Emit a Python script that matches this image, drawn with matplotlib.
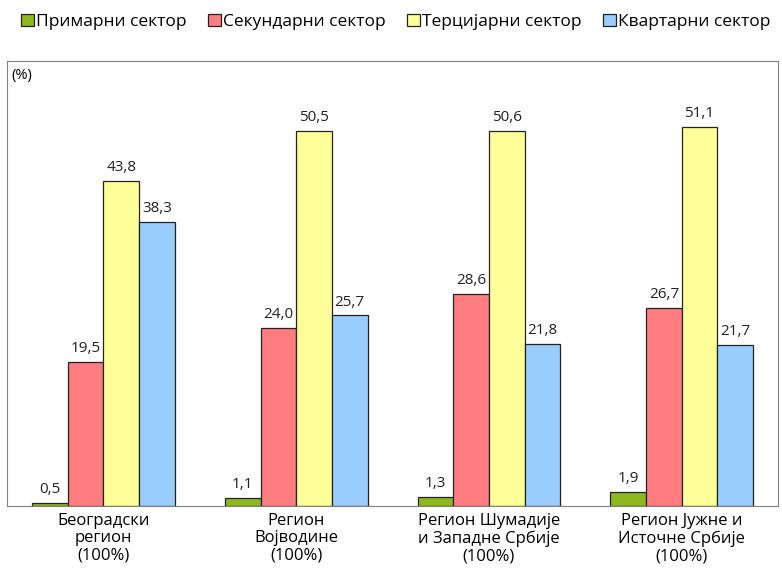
import numpy as np
from matplotlib import pyplot as plt

regioni = ["Београдски\nрегион\n(100%)", "Регион\nВојводине\n(100%)",
           "Регион Шумадије\nи Западне Србије\n(100%)", "Регион Јужне и\nИсточне Србије\n(100%)"]
sektori = ["Примарни сектор", "Секундарни сектор", "Терцијарни сектор", "Квартарни сектор"]
primarni = [0.5, 1.1, 1.3, 1.9]
sekundarni = [19.5, 24.0, 28.6, 26.7]
tercijarni = [43.8, 50.5, 50.6, 51.1]
kvartarni = [38.3, 25.7, 21.8, 21.7]
boje = ["#8DB81E", "#FF7C80", "#FFFF99", "#99CCFF"]

plt.rcParams['font.family'] = ['Open Sans', 'DejaVu Sans']

fig = plt.figure(figsize=(7.82, 5.74), dpi=100)
ax = fig.add_axes([0.009, 0.118, 0.986, 0.776])

x = np.arange(len(regioni))
w = 0.185
serije = [primarni, sekundarni, tercijarni, kvartarni]
for i, (vrednosti, boja, ime) in enumerate(zip(serije, boje, sektori)):
    pos = x + (i - 1.5) * w
    ax.bar(pos, vrednosti, w, color=boja, edgecolor="#222222", linewidth=0.9, label=ime)
    for p, v in zip(pos, vrednosti):
        lbl = f"{v:.1f}".replace(".", ",")
        ax.text(p, v + 0.8, lbl, ha="center", va="bottom", fontsize=11, color="#222222")

ax.set_xlim(-0.5, 3.5)
ax.set_ylim(0, 60)
ax.set_yticks([])
ax.set_xticks(x)
ax.set_xticklabels(regioni, fontsize=12, linespacing=1.1)
ax.tick_params(axis="x", length=0, pad=5)
for s in ax.spines.values():
    s.set_color("#808080")
ax.text(0.006, 0.985, "(%)", transform=ax.transAxes, ha="left", va="top", fontsize=10.5)

fig.legend(loc="center", bbox_to_anchor=(0.506, 0.962), ncol=4, frameon=False,
           fontsize=12.5, handlelength=0.75, handleheight=0.75, handletextpad=0.15,
           columnspacing=1.2)

plt.savefig("out.png", dpi=100)
